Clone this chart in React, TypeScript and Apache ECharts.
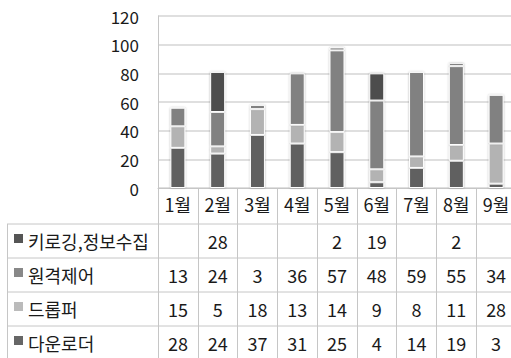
import React, { useEffect, useRef } from "react";
import * as echarts from "echarts";

const months = ["1월", "2월", "3월", "4월", "5월", "6월", "7월", "8월", "9월"];
const seriesNames = ["키로깅,정보수집", "원격제어", "드롭퍼", "다운로더"];
const keylogging: (number | null)[] = [null, 28, null, null, 2, 19, null, 2, null];
const remote: (number | null)[] = [13, 24, 3, 36, 57, 48, 59, 55, 34];
const dropper: (number | null)[] = [15, 5, 18, 13, 14, 9, 8, 11, 28];
const downloader: (number | null)[] = [28, 24, 37, 31, 25, 4, 14, 19, 3];
const yMin = 0;
const yMax = 120;
const yInterval = 20;

const colors = ["#4e4e4e", "#818181", "#b3b3b3", "#606060"];
const legendColors = ["#555555", "#888888", "#bbbbbb", "#666666"];
const FONT = "'Noto Sans CJK KR', 'Noto Sans', sans-serif";

export default function App() {
  const ref = useRef<HTMLDivElement>(null);
  useEffect(() => {
    if (!ref.current) return;
    const chart = echarts.init(ref.current, null, { renderer: "svg" });
    const W = 520;
    const H = 358;
    const gridLeft = 158;
    const gridTop = 16;
    const gridBottom = 170;
    const dataRows = [keylogging, remote, dropper, downloader];
    const stackOrder = [3, 2, 1, 0];
    const series = stackOrder.map((i) => ({
      name: seriesNames[i],
      type: "bar",
      stack: "total",
      barWidth: 15,
      data: dataRows[i],
      itemStyle: {
        color: colors[i],
        borderColor: "#ffffff",
        borderWidth: 1,
        shadowBlur: 2,
        shadowColor: "rgba(0,0,0,0.3)",
      },
    }));
    chart.setOption({
      animation: false,
      grid: { left: gridLeft, right: W - gridLeft - 358, top: gridTop, bottom: gridBottom },
      xAxis: {
        type: "category",
        data: months,
        axisLine: { show: true, lineStyle: { color: "#c6c6c6", width: 1 } },
        axisTick: { show: true, length: 170, lineStyle: { color: "#c6c6c6" } },
        axisLabel: { color: "#1a1a1a", fontSize: 18, fontFamily: FONT, margin: 7 },
      },
      yAxis: {
        type: "value",
        min: yMin,
        max: yMax,
        interval: yInterval,
        axisLine: { show: true, lineStyle: { color: "#c6c6c6" } },
        axisTick: { show: false },
        splitLine: { lineStyle: { color: "#d4d4d4", width: 1.5 } },
        axisLabel: { color: "#1a1a1a", fontSize: 17, fontFamily: FONT, margin: 19 },
      },
      series,
    });

    const rowLines = [224, 258, 292, 326, 360];
    const graphics: any[] = [];
    rowLines.forEach((y, k) => {
      if (k < 4)
        graphics.push({
          type: "line",
          shape: { x1: 7, y1: y, x2: W, y2: y },
          style: { stroke: "#c6c6c6", lineWidth: 1 },
        });
    });
    graphics.push({
      type: "line",
      shape: { x1: 7.5, y1: 224, x2: 7.5, y2: H },
      style: { stroke: "#c6c6c6", lineWidth: 1 },
    });
    for (let r = 0; r < 4; r++) {
      const yc = (rowLines[r] + rowLines[r + 1]) / 2;
      graphics.push({
        type: "rect",
        shape: { x: 14, y: yc - 7, width: 9, height: 9 },
        style: { fill: legendColors[r] },
      });
      graphics.push({
        type: "text",
        x: 28,
        y: yc,
        style: {
          text: seriesNames[r],
          font: `18px ${FONT}`,
          fill: "#1a1a1a",
          textVerticalAlign: "middle",
          verticalAlign: "middle",
        },
      });
      dataRows[r].forEach((v, c) => {
        if (v == null) return;
        const px = chart.convertToPixel({ xAxisIndex: 0 }, months[c]) as number;
        graphics.push({
          type: "text",
          x: px,
          y: yc,
          style: {
            text: String(v),
            font: `18px ${FONT}`,
            fill: "#1a1a1a",
            align: "center",
            verticalAlign: "middle",
          },
        });
      });
    }
    chart.setOption({ graphic: graphics });
    return () => chart.dispose();
  }, []);
  return (
    <div style={{ position: "fixed", left: 0, top: 0, width: 511, height: 358, overflow: "hidden", background: "#fff" }}>
      <div ref={ref} style={{ width: 520, height: 358 }} />
    </div>
  );
}
